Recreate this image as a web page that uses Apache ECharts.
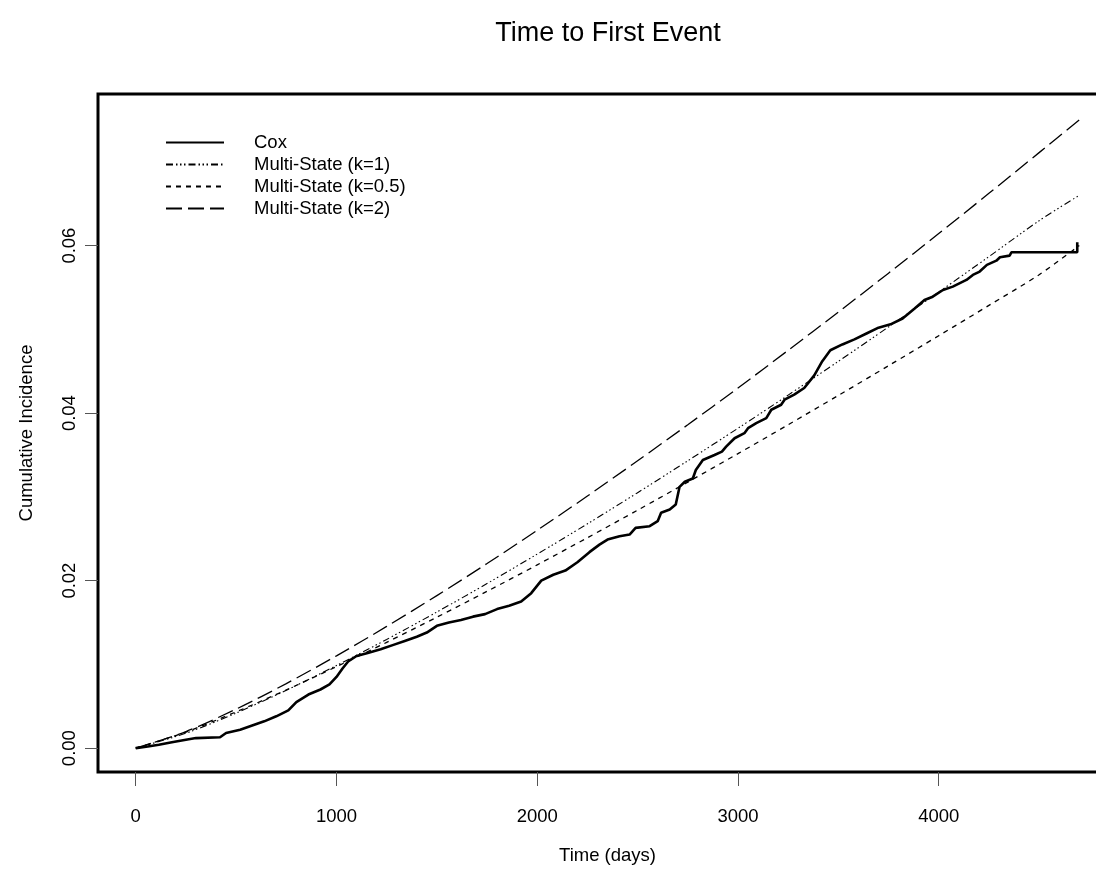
<!DOCTYPE html>
<html>
<head>
<meta charset="utf-8">
<script src="https://cdn.jsdelivr.net/npm/echarts@6/dist/echarts.min.js"></script>
<style>
html,body{margin:0;padding:0;background:#fff;}
#chart{width:1096px;height:876px;}
</style>
</head>
<body>
<div id="chart"></div>
<script>
const xTicks = [0, 1000, 2000, 3000, 4000];
const yTicks = [0, 0.02, 0.04, 0.06];
const seriesNames = ['Cox', 'Multi-State (k=1)', 'Multi-State (k=0.5)', 'Multi-State (k=2)'];

const msTimes = [0, 250, 500, 750, 1000, 1250, 1500, 1750, 2000, 2250, 2500, 2750, 3000, 3250, 3500, 3750, 4000, 4250, 4500, 4700];
const k1Values = [0, 0.00178, 0.00419, 0.00691, 0.00986, 0.01298, 0.01625, 0.01965, 0.02317, 0.02678, 0.0305, 0.03431, 0.03819, 0.04215, 0.04618, 0.05029, 0.05445, 0.05868, 0.06297, 0.0660];
const k05Values = [0, 0.00192, 0.00433, 0.00695, 0.00973, 0.01263, 0.01563, 0.01872, 0.02188, 0.02512, 0.02841, 0.03176, 0.03516, 0.03861, 0.04211, 0.04566, 0.04924, 0.05286, 0.05652, 0.0600];
const k2Values = [0, 0.00198, 0.00466, 0.00771, 0.01102, 0.01453, 0.01821, 0.02204, 0.02601, 0.0301, 0.03431, 0.03861, 0.0430, 0.0475, 0.05206, 0.05671, 0.06144, 0.06624, 0.0711, 0.0750];

const coxTimes = [0, 60, 115, 180, 250, 300, 420, 450, 520, 580, 640, 700, 760, 800, 860, 920, 965, 1000, 1030, 1060, 1100, 1160, 1220, 1280, 1340, 1400, 1450, 1500, 1560, 1620, 1680, 1740, 1800, 1860, 1920, 1970, 2020, 2080, 2140, 2200, 2260, 2310, 2350, 2410, 2460, 2490, 2560, 2600, 2617, 2660, 2690, 2709, 2735, 2775, 2790, 2825, 2883, 2920, 2941, 2983, 3032, 3050, 3091, 3141, 3166, 3215, 3232, 3280, 3330, 3380, 3420, 3460, 3520, 3580, 3640, 3700, 3760, 3820, 3880, 3929, 3970, 4021, 4070, 4138, 4170, 4204, 4240, 4287, 4305, 4353, 4362, 4690, 4690];
const coxValues = [0, 0.0002, 0.0004, 0.0007, 0.0010, 0.0012, 0.0013, 0.0018, 0.0022, 0.0027, 0.0032, 0.0038, 0.0045, 0.0055, 0.0064, 0.0070, 0.0076, 0.0085, 0.0095, 0.0104, 0.0110, 0.0114, 0.0118, 0.0123, 0.0128, 0.0133, 0.0138, 0.0146, 0.0150, 0.0153, 0.0157, 0.0160, 0.0166, 0.0170, 0.0175, 0.0185, 0.0200, 0.0207, 0.0212, 0.0222, 0.0234, 0.0243, 0.0249, 0.0253, 0.0255, 0.0263, 0.0265, 0.0271, 0.0281, 0.0285, 0.0291, 0.0312, 0.0318, 0.0322, 0.0332, 0.0344, 0.0350, 0.0354, 0.0360, 0.0370, 0.0376, 0.0382, 0.0388, 0.0394, 0.0404, 0.0410, 0.0416, 0.0422, 0.0430, 0.0445, 0.0462, 0.0475, 0.0482, 0.0488, 0.0495, 0.0502, 0.0506, 0.0513, 0.0525, 0.0535, 0.0539, 0.0547, 0.0551, 0.0559, 0.0565, 0.0569, 0.0577, 0.0582, 0.0586, 0.0588, 0.0592, 0.0592, 0.0604];

function pairs(xs, ys) { return xs.map((x, i) => [x, ys[i]]); }

const FONT = 'Liberation Sans, Arial, Helvetica, sans-serif';
const chart = echarts.init(document.getElementById('chart'), null, {renderer: 'canvas'});

const lineBase = {type: 'line', showSymbol: false, symbol: 'none', animation: false, silent: true};

chart.setOption({
  backgroundColor: '#ffffff',
  animation: false,
  title: {
    text: 'Time to First Event',
    left: 603, top: 15, textAlign: 'center',
    textStyle: {fontFamily: FONT, fontSize: 27, fontWeight: 'normal', color: '#000'}
  },
  legend: {
    orient: 'vertical', left: 160, top: 128, padding: 5,
    itemWidth: 58, itemHeight: 10, itemGap: 3,
    data: seriesNames,
    itemStyle: {color: 'rgba(0,0,0,0)', borderWidth: 0, opacity: 0},
    textStyle: {fontFamily: FONT, fontSize: 18.5, color: '#000', padding: [0, 0, 0, 25]},
    selectedMode: false
  },
  grid: {left: 98, top: 94, width: 1019, height: 678, show: true, borderColor: '#000', borderWidth: 3, backgroundColor: 'transparent', containLabel: false, outerBoundsMode: 'none'},
  xAxis: {
    type: 'value', min: -188, max: 4888,
    name: 'Time (days)', nameLocation: 'middle', nameGap: 74,
    nameTextStyle: {fontFamily: FONT, fontSize: 18.5, color: '#000'},
    axisLine: {show: false, onZero: false},
    splitLine: {show: false},
    axisTick: {show: true, length: 14, customValues: xTicks, lineStyle: {color: '#555', width: 1}},
    axisLabel: {show: true, customValues: xTicks, margin: 35, fontFamily: FONT, fontSize: 18.5, color: '#000',
      formatter: v => String(v)}
  },
  yAxis: {
    type: 'value', min: -0.00285, max: 0.0781,
    name: 'Cumulative Incidence', nameLocation: 'middle', nameGap: 62, nameRotate: 90,
    nameTextStyle: {fontFamily: FONT, fontSize: 18.5, color: '#000'},
    axisLine: {show: false, onZero: false},
    splitLine: {show: false},
    axisTick: {show: true, length: 13, customValues: yTicks, lineStyle: {color: '#555', width: 1}},
    axisLabel: {show: true, customValues: yTicks, rotate: 90, margin: 19, fontFamily: FONT, fontSize: 18.5, color: '#000',
      formatter: v => v.toFixed(2)}
  },
  series: [
    Object.assign({}, lineBase, {name: seriesNames[0], data: pairs(coxTimes, coxValues), z: 5,
      lineStyle: {color: '#000', width: 2.6, type: 'solid'}, itemStyle: {color: '#000'}}),
    Object.assign({}, lineBase, {name: seriesNames[1], data: pairs(msTimes, k1Values), smooth: 0.3,
      lineStyle: {color: '#000', width: 1.1, type: [7, 3, 1.5, 2.5, 1.5, 2.5, 1.5, 3]}, itemStyle: {color: '#000'}}),
    Object.assign({}, lineBase, {name: seriesNames[2], data: pairs(msTimes, k05Values), smooth: 0.3,
      lineStyle: {color: '#000', width: 1.3, type: [5, 5]}, itemStyle: {color: '#000'}}),
    Object.assign({}, lineBase, {name: seriesNames[3], data: pairs(msTimes, k2Values), smooth: 0.3,
      lineStyle: {color: '#000', width: 1.3, type: [16, 6]}, itemStyle: {color: '#000'}})
  ]
});
</script>
</body>
</html>
